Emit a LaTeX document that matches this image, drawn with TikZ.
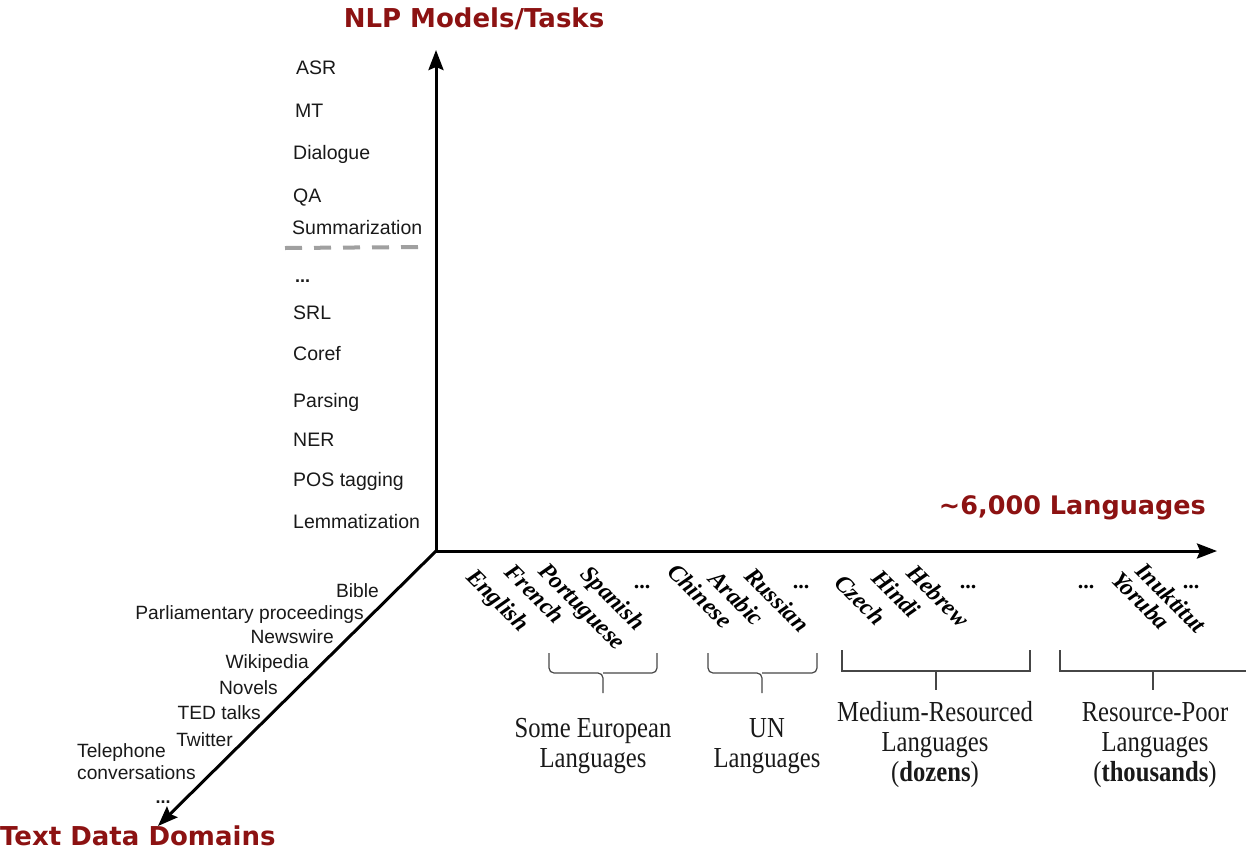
\documentclass[tikz,border=0pt]{standalone}
\usepackage{fontspec}
\setmainfont{Liberation Serif}
\setsansfont{Liberation Sans}
\newfontfamily\headfont{DejaVu Sans}
\newfontfamily\groupfont[FakeStretch=0.85]{Liberation Serif}
\usetikzlibrary{arrows.meta}

\definecolor{titlered}{RGB}{140,18,18}
\definecolor{listtext}{RGB}{25,25,25}
\definecolor{bracketgray}{RGB}{70,70,70}
\definecolor{dashgray}{RGB}{160,160,160}

\tikzset{
  axis/.style={line width=3pt, -{Stealth[length=20pt,width=15pt,inset=3pt]}},
  heading/.style={font=\headfont\bfseries\fontsize{26}{30}\selectfont, text=titlered, inner sep=0pt},
  task/.style={font=\sffamily\fontsize{19.5}{22}\selectfont, text=listtext, anchor=base west, inner sep=0pt},
  domlabel/.style={font=\sffamily\fontsize{19.2}{21.5}\selectfont, text=listtext, anchor=base east, inner sep=0pt},
  lang/.style={font=\bfseries\itshape\fontsize{24}{26}\selectfont, rotate=-45, anchor=base west, inner sep=0pt},
  dotmark/.style={font=\bfseries\fontsize{22}{24}\selectfont, inner sep=0pt},
  group/.style={font=\groupfont\fontsize{29}{30}\selectfont, align=center, anchor=base, inner sep=0pt, text=listtext},
  bracket/.style={line width=1.2pt, draw=bracketgray},
  separator/.style={line width=4pt, draw=dashgray, dash pattern=on 17pt off 12pt}
}

\begin{document}
\begin{tikzpicture}[x=1pt,y=-1pt]
\useasboundingbox (0,0) rectangle (1246,852);

% axes
\coordinate (O) at (436,551);
\coordinate (tasksEnd) at (436,50);
\coordinate (langsEnd) at (1217,551);
\coordinate (domainsEnd) at (158,826);
\draw[axis] (O) -- (tasksEnd);
\draw[axis] (O) -- (langsEnd);
\draw[axis] (O) -- (domainsEnd);

% axis titles
\node[heading] (tTasks) at (474,19) {NLP Models/Tasks};
\node[heading, anchor=base east, font=\headfont\bfseries\fontsize{25.5}{30}\selectfont] (tLangs) at (1206,514) {\textasciitilde6,000 Languages};
\node[heading, anchor=base west] (tDomains) at (0,845) {Text Data Domains};

% tasks along the vertical axis
\node[task] (asr) at (296,74) {ASR};
\node[task] (mt) at (295,117) {MT};
\node[task] (dlg) at (293,159) {Dialogue};
\node[task] (qa) at (293,202) {QA};
\node[task] (summ) at (292,234) {Summarization};
\coordinate (sepL) at (285,248);
\coordinate (sepR) at (422,247);
\draw[separator] (sepL) -- (sepR);
\node[task, font=\sffamily\bfseries\fontsize{18}{20}\selectfont] (tdots) at (295,282) {...};
\node[task] (srl) at (293,319) {SRL};
\node[task] (coref) at (293,360) {Coref};
\node[task] (parse) at (293,407) {Parsing};
\node[task] (ner) at (293,446) {NER};
\node[task] (pos) at (293,486) {POS tagging};
\node[task] (lemma) at (293,528) {Lemmatization};

% domains along the diagonal axis
\node[domlabel] (bible) at (379,597) {Bible};
\node[domlabel] (parl) at (364,619) {Parliamentary proceedings};
\node[domlabel] (news) at (334,643) {Newswire};
\node[domlabel] (wiki) at (309,668) {Wikipedia};
\node[domlabel] (novels) at (278,694) {Novels};
\node[domlabel] (ted) at (261,719) {TED talks};
\node[domlabel] (twitter) at (233,746) {Twitter};
\node[domlabel, anchor=base west, align=left] (phone) at (77,779) {Telephone\\conversations};
\node[task, font=\sffamily\bfseries\fontsize{18}{20}\selectfont, anchor=base] (ddots) at (163,803) {...};

% languages along the horizontal axis
\node[lang] (en) at (465,578) {English};
\node[lang] (fr) at (503,573) {French};
\node[lang] (pt) at (537,572) {Portuguese};
\node[lang] (es) at (579,575) {Spanish};
\node[dotmark] (d1) at (642,587) {...};
\node[lang] (zh) at (666,573) {Chinese};
\node[lang] (ar) at (707,580) {Arabic};
\node[lang] (ru) at (743,577) {Russian};
\node[dotmark] (d2) at (801,587) {...};
\node[lang] (cs) at (833,584) {Czech};
\node[lang] (hi) at (870,579) {Hindi};
\node[lang] (he) at (905,574) {Hebrew};
\node[dotmark] (d3) at (968,587) {...};
\node[dotmark] (d4) at (1086,587) {...};
\node[lang] (yo) at (1110,581) {Yoruba};
\node[lang] (iu) at (1134,572) {Inuktitut};
\node[dotmark] (d5) at (1191,587) {...};

% curly brackets
\draw[bracket, rounded corners=5pt] (549,653) -- (549,673) -- (603,673) -- (603,693);
\draw[bracket, rounded corners=5pt] (657,653) -- (657,673) -- (603,673);
\draw[bracket, rounded corners=5pt] (708,653) -- (708,673) -- (762,673) -- (762,693);
\draw[bracket, rounded corners=5pt] (817,653) -- (817,673) -- (762,673);

% square brackets
\draw[bracket] (842,650) -- (842,671) -- (1030,671) -- (1030,650);
\draw[bracket] (936,671) -- (936,690);
\draw[bracket] (1060,650) -- (1060,671) -- (1246,671);
\draw[bracket] (1153,671) -- (1153,690);

% group captions (anchored at the baseline of the last line)
\node[group] (gEu) at (593,767) {Some European\\Languages};
\node[group] (gUn) at (767,767) {UN\\Languages};
\node[group] (gMed) at (935,781) {Medium-Resourced\\Languages\\(\textbf{dozens})};
\node[group] (gPoor) at (1155,781) {Resource-Poor\\Languages\\(\textbf{thousands})};
\end{tikzpicture}
\end{document}
